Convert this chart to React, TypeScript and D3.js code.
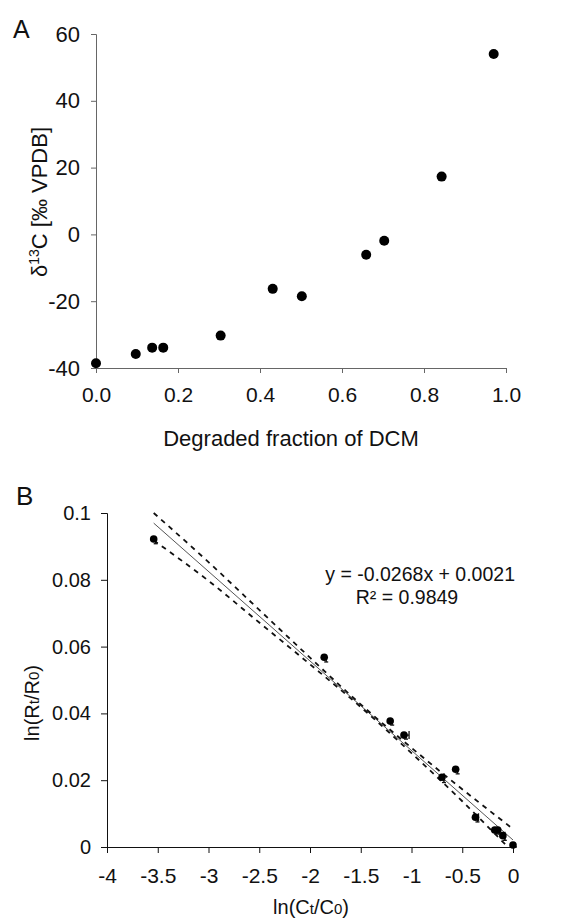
import React, { useEffect, useRef } from "react";
import * as d3 from "d3";

// panel A: isotope shift vs degraded fraction
const fracDegraded = [0, 0.097, 0.137, 0.164, 0.304, 0.431, 0.502, 0.659, 0.703, 0.843, 0.97];
const delta13C = [-38.6, -35.8, -33.9, -33.9, -30.3, -16.3, -18.5, -6.1, -1.9, 17.3, 54.0];
const ticksA_x = [0, 0.2, 0.4, 0.6, 0.8, 1.0];
const ticksA_y = [-40, -20, 0, 20, 40, 60];

// panel B: Rayleigh plot
const lnC = [-3.54, -1.86, -1.21, -1.074, -0.7, -0.565, -0.37, -0.18, -0.15, -0.1, 0];
const lnR = [0.0922, 0.0568, 0.0377, 0.0335, 0.0209, 0.0233, 0.0089, 0.0051, 0.0051, 0.0034, 0.0006];
const lnR_err = [0.0014, 0.0014, 0.0012, 0.0012, 0.0016, 0.0014, 0.0014, 0.0012, 0.0012, 0.0014, 0.0006];
const lnC_err = [0, 0, 0, 0.05, 0.02, 0, 0.03, 0, 0, 0.02, 0];
const fitSlope = -0.0268;
const fitIntercept = 0.0021;
const bandX = [-3.54, -3.0, -2.5, -2.0, -1.5, -1.0, -0.5, 0];
const bandUpper = [0.1, 0.0853, 0.071, 0.0567, 0.0427, 0.0297, 0.0173, 0.0054];
const bandLowerX = [-3.54, -3.0, -2.5, -2.0, -1.5, -1.0, -0.5, -0.06];
const bandLower = [0.0918, 0.0797, 0.0672, 0.0547, 0.0419, 0.0281, 0.0137, 0.0003];
const ticksB_x = [-4, -3.5, -3, -2.5, -2, -1.5, -1, -0.5, 0];
const ticksB_y = [0, 0.02, 0.04, 0.06, 0.08, 0.1];

const FONT = "'Liberation Sans', Arial, sans-serif";
const INK = "#111";

export default function App() {
  const ref = useRef<SVGSVGElement>(null);

  useEffect(() => {
    const svg = d3.select(ref.current);
    svg.selectAll("*").remove();
    svg.style("font-family", FONT);

    // ---------- panel A ----------
    const xA = d3.scaleLinear().domain([0, 1]).range([96, 506]);
    const yA = d3.scaleLinear().domain([-40, 60]).range([368, 34]);
    const gA = svg.append("g");

    gA.append("g")
      .attr("transform", "translate(0,368)")
      .call(d3.axisBottom(xA).tickValues(ticksA_x).tickFormat(d3.format(".1f")).tickSize(5).tickPadding(14))
      .call((g) => g.selectAll("path,line").attr("stroke", "#666"))
      .call((g) => g.selectAll("text").attr("font-size", 21).attr("font-family", FONT).attr("fill", INK));
    gA.append("g")
      .attr("transform", "translate(96,0)")
      .call(d3.axisLeft(yA).tickValues(ticksA_y).tickFormat((d) => String(d)).tickSize(5).tickPadding(11))
      .call((g) => g.selectAll("path,line").attr("stroke", "#666"))
      .call((g) => g.selectAll("text").attr("font-size", 22).attr("font-family", FONT).attr("fill", INK));

    gA.append("g")
      .selectAll("circle")
      .data(fracDegraded)
      .enter()
      .append("circle")
      .attr("cx", (d) => xA(d))
      .attr("cy", (d, i) => yA(delta13C[i]))
      .attr("r", 5)
      .attr("fill", "#000");

    gA.append("text").attr("x", 13).attr("y", 38).attr("font-size", 25).attr("fill", INK).text("A");
    gA.append("text")
      .attr("x", 291)
      .attr("y", 446)
      .attr("text-anchor", "middle")
      .attr("font-size", 22)
      .attr("fill", INK)
      .text("Degraded fraction of DCM");
    const ylabA = gA
      .append("text")
      .attr("transform", "translate(47,202) rotate(-90)")
      .attr("text-anchor", "middle")
      .attr("font-size", 22)
      .attr("fill", INK);
    ylabA.append("tspan").text("δ");
    ylabA.append("tspan").attr("font-size", 14).attr("dy", -8).text("13");
    ylabA.append("tspan").attr("dy", 8).text("C [‰ VPDB]");

    // ---------- panel B ----------
    const xB = d3.scaleLinear().domain([-4, 0]).range([107, 513]);
    const yB = d3.scaleLinear().domain([0, 0.1]).range([847, 513]);
    const gB = svg.append("g");

    gB.append("g")
      .attr("transform", "translate(0,847)")
      .call(d3.axisBottom(xB).tickValues(ticksB_x).tickFormat((d) => String(d)).tickSize(6).tickPadding(15))
      .call((g) => g.selectAll("path,line").attr("stroke", INK))
      .call((g) => g.selectAll("text").attr("font-size", 21).attr("font-family", FONT).attr("fill", INK));
    gB.append("g")
      .attr("transform", "translate(107,0)")
      .call(d3.axisLeft(yB).tickValues(ticksB_y).tickFormat((d) => String(d)).tickSize(6).tickPadding(10))
      .call((g) => g.selectAll("path,line").attr("stroke", INK))
      .call((g) => g.selectAll("text").attr("font-size", 20).attr("font-family", FONT).attr("fill", INK));

    // fit line
    const fitX = [d3.min(lnC) as number, d3.max(lnC) as number];
    gB.append("line")
      .attr("x1", xB(fitX[0]))
      .attr("y1", yB(fitSlope * fitX[0] + fitIntercept))
      .attr("x2", xB(fitX[1]))
      .attr("y2", yB(fitSlope * fitX[1] + fitIntercept))
      .attr("stroke", "#555")
      .attr("stroke-width", 1);

    const band = d3
      .line<number>()
      .x((d) => xB(d))
      .curve(d3.curveMonotoneX);
    gB.append("path")
      .attr("d", band.y((d, i) => yB(bandUpper[i]))(bandX))
      .attr("fill", "none")
      .attr("stroke", INK)
      .attr("stroke-width", 1.8)
      .attr("stroke-dasharray", "5,5");
    gB.append("path")
      .attr("d", band.y((d, i) => yB(bandLower[i]))(bandLowerX))
      .attr("fill", "none")
      .attr("stroke", INK)
      .attr("stroke-width", 1.8)
      .attr("stroke-dasharray", "5,5");

    // error bars
    const eb = gB.append("g").attr("stroke", INK).attr("stroke-width", 1.3);
    lnC.forEach((c, i) => {
      const cx = xB(c) + 2;
      eb.append("line")
        .attr("x1", cx)
        .attr("x2", cx)
        .attr("y1", yB(lnR[i]))
        .attr("y2", yB(lnR[i] - lnR_err[i]));
      eb.append("line")
        .attr("x1", cx - 2)
        .attr("x2", cx + 2)
        .attr("y1", yB(lnR[i] - lnR_err[i]))
        .attr("y2", yB(lnR[i] - lnR_err[i]));
      if (lnC_err[i] > 0) {
        eb.append("line")
          .attr("x1", xB(c))
          .attr("x2", xB(c + lnC_err[i]))
          .attr("y1", yB(lnR[i]))
          .attr("y2", yB(lnR[i]));
        eb.append("line")
          .attr("x1", xB(c + lnC_err[i]))
          .attr("x2", xB(c + lnC_err[i]))
          .attr("y1", yB(lnR[i]) - 4)
          .attr("y2", yB(lnR[i]) + 4);
      }
    });

    gB.append("g")
      .selectAll("circle")
      .data(lnC)
      .enter()
      .append("circle")
      .attr("cx", (d) => xB(d))
      .attr("cy", (d, i) => yB(lnR[i]))
      .attr("r", 3.8)
      .attr("fill", "#000");

    gB.append("text").attr("x", 16).attr("y", 505).attr("font-size", 26).attr("fill", INK).text("B");
    gB.append("text")
      .attr("x", 515)
      .attr("y", 581)
      .attr("text-anchor", "end")
      .attr("font-size", 19.5)
      .attr("fill", INK)
      .text("y = -0.0268x + 0.0021");
    gB.append("text")
      .attr("x", 407)
      .attr("y", 604)
      .attr("text-anchor", "middle")
      .attr("font-size", 19.5)
      .attr("fill", INK)
      .text("R² = 0.9849");

    const xlabB = gB
      .append("text")
      .attr("x", 311)
      .attr("y", 914)
      .attr("text-anchor", "middle")
      .attr("font-size", 20)
      .attr("fill", INK);
    xlabB.append("tspan").text("ln(C");
    xlabB.append("tspan").attr("font-size", 15).text("t");
    xlabB.append("tspan").text("/C");
    xlabB.append("tspan").attr("font-size", 15).text("0");
    xlabB.append("tspan").text(")");

    const ylabB = gB
      .append("text")
      .attr("transform", "translate(39,703) rotate(-90)")
      .attr("text-anchor", "middle")
      .attr("font-size", 20)
      .attr("fill", INK);
    ylabB.append("tspan").text("ln(R");
    ylabB.append("tspan").attr("font-size", 15).text("t");
    ylabB.append("tspan").text("/R");
    ylabB.append("tspan").attr("font-size", 15).text("0");
    ylabB.append("tspan").text(")");
  }, []);

  return (
    <div style={{ position: "absolute", left: 0, top: 0 }}>
      <svg ref={ref} width={581} height={921} style={{ display: "block", background: "#fff" }} />
    </div>
  );
}
